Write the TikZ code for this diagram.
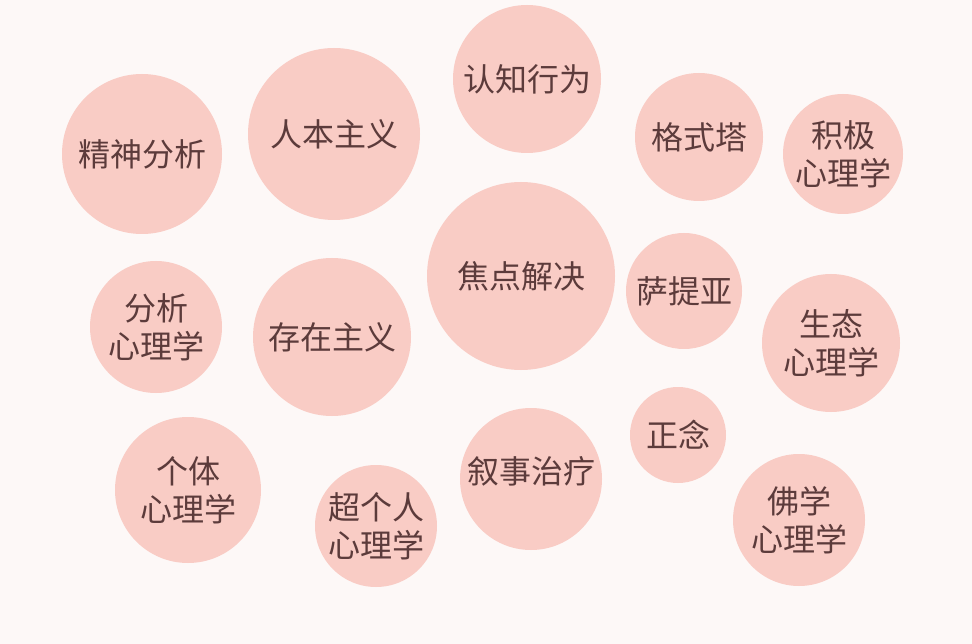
\documentclass[tikz,border=0pt]{standalone}
\usepackage{fontspec}
\setmainfont{Noto Sans CJK SC}
\definecolor{bubblepink}{HTML}{F9CCC5}
\definecolor{paper}{HTML}{FDF8F7}
\definecolor{ink}{HTML}{5C3B3B}

\begin{document}
\begin{tikzpicture}[x=1pt,y=-1pt,
    bubble/.style={circle, fill=bubblepink, inner sep=0pt, align=center,
      text=ink, font=\fontsize{32}{38}\selectfont}]
  \fill[paper] (0,0) rectangle (972,644);
  \useasboundingbox (0,0) rectangle (972,644);

  \node[bubble, minimum size=160pt] (psa) at (142,154) {精神分析};
  \node[bubble, minimum size=172pt] (hum) at (334,134) {人本主义};
  \node[bubble, minimum size=148pt] (cbt) at (527,79)  {认知行为};
  \node[bubble, minimum size=128pt] (ges) at (699,137) {格式塔};
  \node[bubble, minimum size=120pt] (pos) at (843,154) {积极\\心理学};
  \node[bubble, minimum size=188pt] (sfb) at (521,276) {焦点解决};
  \node[bubble, minimum size=116pt] (sat) at (684,291) {萨提亚};
  \node[bubble, minimum size=132pt] (ana) at (156,327) {分析\\心理学};
  \node[bubble, minimum size=158pt] (exi) at (332,337) {存在主义};
  \node[bubble, minimum size=138pt] (eco) at (831,343) {生态\\心理学};
  \node[bubble, minimum size=146pt] (ind) at (188,490) {个体\\心理学};
  \node[bubble, minimum size=142pt] (nar) at (531,479) {\raisebox{18pt}{叙事治疗}};
  \node[bubble, minimum size=96pt]  (mnd) at (678,435) {正念};
  \node[bubble, minimum size=122pt] (tra) at (376,526) {超个人\\心理学};
  \node[bubble, minimum size=132pt] (bud) at (799,520) {佛学\\心理学};
\end{tikzpicture}
\end{document}
